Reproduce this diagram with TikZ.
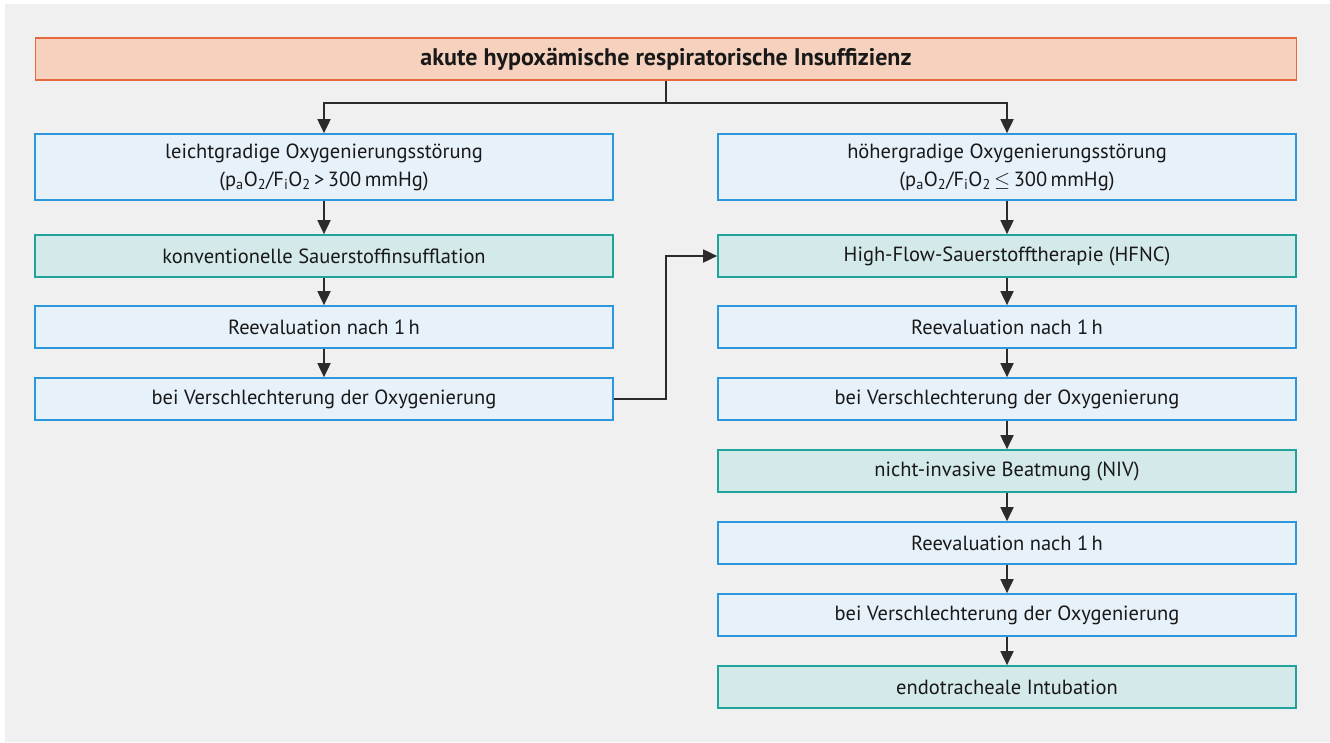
\documentclass[tikz,border=0pt]{standalone}
\usepackage{fontspec}
\setmainfont{PT Sans}
\usetikzlibrary{arrows.meta}
\definecolor{bgpanel}{HTML}{F0F0F0}
\definecolor{headfill}{HTML}{F6D1BE}
\definecolor{headline}{HTML}{E6683D}
\definecolor{stagefill}{HTML}{E7F1FA}
\definecolor{stageline}{HTML}{2C98DB}
\definecolor{therapyfill}{HTML}{D4E9EA}
\definecolor{therapyline}{HTML}{20A39B}
\definecolor{flowline}{HTML}{2B2B2B}
\begin{document}
\begin{tikzpicture}[x=1pt, y=-1pt, line cap=butt, line join=miter]
  \tikzset{box/.style={inner sep=0pt, align=center, text=black!90, line width=1.7pt, font=\fontsize{20.5}{28}\selectfont},
    headbox/.style={box, draw=headline, fill=headfill, minimum width=1261pt, minimum height=42pt, font=\fontsize{24}{28}\selectfont\bfseries},
    stagebox/.style={box, draw=stageline, fill=stagefill, minimum width=578pt, minimum height=42pt},
    therapybox/.style={box, draw=therapyline, fill=therapyfill, minimum width=578pt, minimum height=42pt},
    flow/.style={draw=flowline, line width=1.8pt, -{Triangle[length=14pt, width=13pt]}}}

  \useasboundingbox (0,0) rectangle (1330,742);
  \fill[bgpanel] (5,4) rectangle (1330,742);

  % header and the two grades of oxygenation failure
  \node[headbox] (head) at (666,59) {akute hypoxämische respiratorische Insuffizienz};
  \node[stagebox, minimum height=66pt] (mild) at (324,167) {leichtgradige Oxygenierungsstörung\\(p\textsubscript{a}O\textsubscript{2}/F\textsubscript{i}O\textsubscript{2}\,>\,300\,mmHg)};
  \node[stagebox, minimum height=66pt] (severe) at (1007,167) {höhergradige Oxygenierungsstörung\\(p\textsubscript{a}O\textsubscript{2}/F\textsubscript{i}O\textsubscript{2}\,$\leq$\,300\,mmHg)};
  \coordinate (split) at (666,103);
  \coordinate (jog) at (666,327);

  % left column
  \node[therapybox] (conv) at (324,256) {konventionelle Sauerstoffinsufflation};
  \node[stagebox] (reevalA) at (324,327) {Reevaluation nach 1\,h};
  \node[stagebox] (worseA) at (324,399) {bei Verschlechterung der Oxygenierung};

  % right column
  \node[therapybox] (hfnc) at (1007,256) {High-Flow-Sauerstofftherapie (HFNC)};
  \node[stagebox] (reevalB) at (1007,327) {Reevaluation nach 1\,h};
  \node[stagebox] (worseB) at (1007,399) {bei Verschlechterung der Oxygenierung};
  \node[therapybox] (niv) at (1007,471) {nicht-invasive Beatmung (NIV)};
  \node[stagebox] (reevalC) at (1007,543) {Reevaluation nach 1\,h};
  \node[stagebox] (worseC) at (1007,615) {bei Verschlechterung der Oxygenierung};
  \node[therapybox] (intub) at (1007,687) {endotracheale Intubation};

  % connectors
  \draw[draw=flowline, line width=1.8pt] (head) -- (split);
  \draw[flow] (split) -| (mild);
  \draw[flow] (split) -| (severe);
  \draw[flow] (mild) -- (conv);
  \draw[flow] (conv) -- (reevalA);
  \draw[flow] (reevalA) -- (worseA);
  \draw[flow] (worseA.east) -- (worseA.east -| jog) |- (hfnc.west);
  \draw[flow] (severe) -- (hfnc);
  \draw[flow] (hfnc) -- (reevalB);
  \draw[flow] (reevalB) -- (worseB);
  \draw[flow] (worseB) -- (niv);
  \draw[flow] (niv) -- (reevalC);
  \draw[flow] (reevalC) -- (worseC);
  \draw[flow] (worseC) -- (intub);
\end{tikzpicture}
\end{document}
